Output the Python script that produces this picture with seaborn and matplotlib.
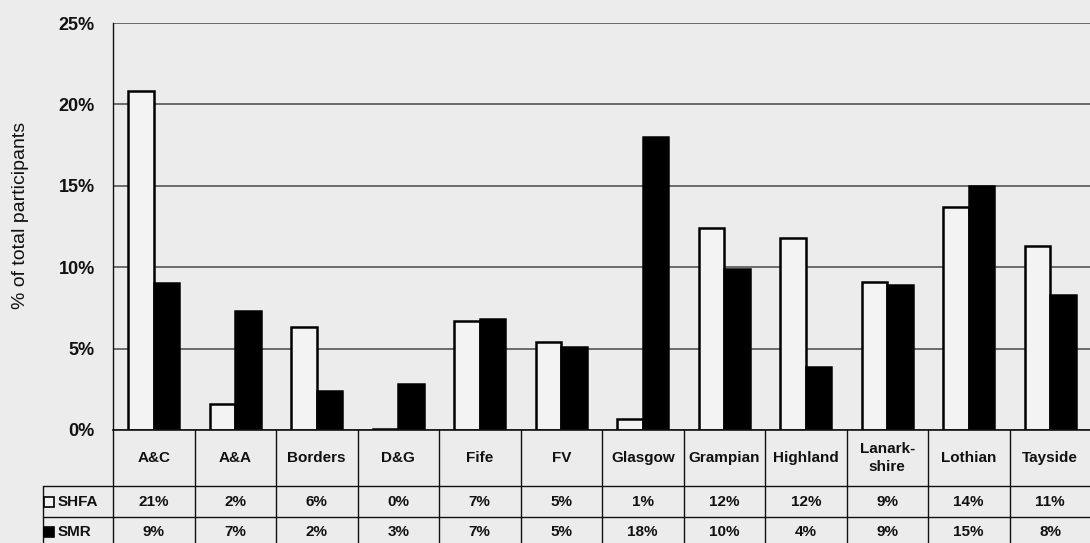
import matplotlib
matplotlib.use("Agg")
import matplotlib.pyplot as plt
import matplotlib.transforms as mtransforms
import pandas as pd
import seaborn as sns

# Health board areas and the share of participants in each survey
regions = ["A&C", "A&A", "Borders", "D&G", "Fife", "FV", "Glasgow",
           "Grampian", "Highland", "Lanark-\nshire", "Lothian", "Tayside"]
shfa = [0.208, 0.016, 0.063, 0.0005, 0.067, 0.054, 0.0068,
        0.124, 0.118, 0.091, 0.137, 0.113]
smr = [0.090, 0.073, 0.024, 0.028, 0.068, 0.051, 0.180,
       0.099, 0.039, 0.089, 0.150, 0.083]
series_names = ["SHFA", "SMR"]
y_ticks = [0.0, 0.05, 0.10, 0.15, 0.20, 0.25]
y_title = "% of total participants"

df = pd.DataFrame({
    "region": regions * 2,
    "series": [series_names[0]] * len(regions) + [series_names[1]] * len(regions),
    "pct": shfa + smr,
})

sns.set_style("white")
plt.rcParams["font.family"] = ["Liberation Sans", "DejaVu Sans"]

BG = "#ececec"
FILL_LIGHT = "#f3f3f3"
INK = "#111111"
GRID = "#555555"

W, H = 1090, 543
fig = plt.figure(figsize=(W / 100, H / 100), dpi=100, facecolor=BG)

left_px, right_px, top_px, base_px = 113, 1091, 23, 430
ax = fig.add_axes([left_px / W, 1 - base_px / H,
                   (right_px - left_px) / W, (base_px - top_px) / H])
ax.set_facecolor(BG)

sns.barplot(data=df, x="region", y="pct", hue="series", order=regions,
            hue_order=series_names,
            palette={series_names[0]: FILL_LIGHT, series_names[1]: "black"},
            edgecolor="black", linewidth=1.8, width=0.62, legend=False,
            ax=ax)

n = len(regions)
ax.set_xlim(-0.5, n - 0.5)
ax.set_ylim(0, 0.25)
ax.set_yticks(y_ticks)
ax.set_yticklabels([f"{t:.0%}" for t in y_ticks], fontsize=13,
                   fontweight="bold", color=INK)
ax.tick_params(axis="y", direction="out", length=5, width=1, color=INK, pad=8)
ax.set_xticks([])
ax.set_xlabel("")
ax.set_ylabel("")
ax.yaxis.grid(True, color=GRID, linewidth=1.2)
ax.set_axisbelow(True)
for side in ["top", "right"]:
    ax.spines[side].set_visible(False)
ax.spines["left"].set_color(INK)
ax.spines["left"].set_linewidth(1.0)
ax.spines["bottom"].set_color(INK)
ax.spines["bottom"].set_linewidth(1.2)

fig.text(20.5 / W, 1 - 215 / H, y_title, rotation=90, ha="center",
         va="center", fontsize=14, color=INK)

# Data table drawn under the plot, sharing the category x-scale
trans = mtransforms.blended_transform_factory(ax.transData, ax.transAxes)
ax_h = base_px - top_px


def ay(py):
    return (base_px - py) / ax_h


row1, row2, row_end = ay(486), ay(516.5), ay(548)
legend_left = -0.5 + (43 - left_px) / 81.5
line_kw = dict(color=INK, linewidth=1.0, transform=trans, clip_on=False)

for k in range(n + 1):
    ax.plot([k - 0.5, k - 0.5], [0, row_end], **line_kw)
ax.plot([legend_left, legend_left], [row1, row_end], **line_kw)
for yy in (row1, row2):
    ax.plot([legend_left, n - 0.5], [yy, yy], **line_kw)

txt_kw = dict(transform=trans, ha="center", va="center", fontsize=11,
              fontweight="bold", color=INK, clip_on=False)
cat_y = ay(458)
shfa_y = ay(501.5)
smr_y = ay(532)
for i, name in enumerate(regions):
    ax.text(i, cat_y, name, linespacing=1.45, **txt_kw)
    ax.text(i, shfa_y, f"{shfa[i]:.0%}", **txt_kw)
    ax.text(i, smr_y, f"{smr[i]:.0%}", **txt_kw)

mark_x = -0.5 + (48.5 - left_px) / 81.5
label_x = -0.5 + (57.5 - left_px) / 81.5
for yy, face, name in ((shfa_y, FILL_LIGHT, series_names[0]),
                       (smr_y, "black", series_names[1])):
    ax.plot([mark_x], [yy], marker="s", markersize=6.5, markerfacecolor=face,
            markeredgecolor="black", markeredgewidth=1.2, linestyle="none",
            transform=trans, clip_on=False)
    ax.text(label_x, yy, name, transform=trans, ha="left", va="center",
            fontsize=11, fontweight="bold", color=INK, clip_on=False)

fig.savefig("out.png", dpi=100, facecolor=BG)
